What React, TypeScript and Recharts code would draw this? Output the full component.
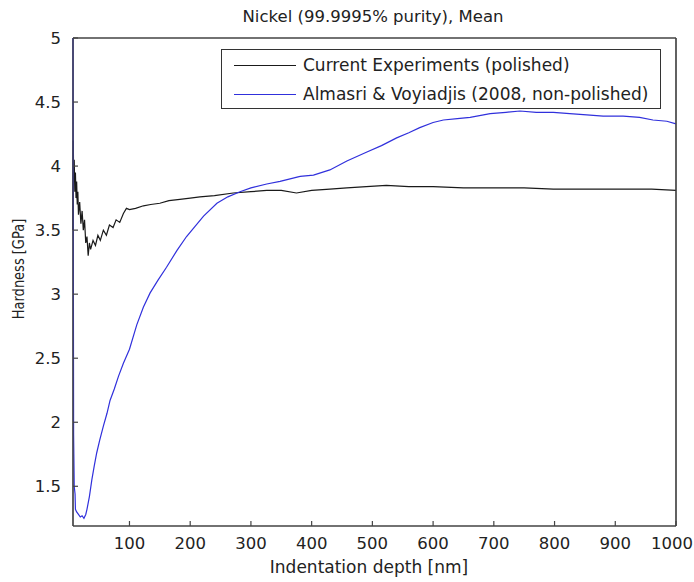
import { LineChart, Line, XAxis, YAxis, Legend, CartesianGrid } from "recharts";

// Current Experiments (polished) - black
const currentDepth = [
  7, 7.5, 8, 9, 10, 11, 12, 13, 14, 15, 16, 18, 20, 22, 24, 26, 28, 30, 32, 34, 36,
  40, 44, 48, 52, 57, 62, 67, 73, 78, 84, 90, 95, 100, 110, 123, 135, 150, 165, 183,
  200, 216, 240, 271, 300, 326, 350, 375, 400, 430, 458, 490, 523, 560, 600, 650,
  700, 750, 798, 850, 913, 960, 1000,
];
const currentHardness = [
  3.5, 4.2, 3.9, 4.05, 3.8, 3.95, 3.75, 3.88, 3.7, 3.8, 3.62, 3.72, 3.55, 3.65, 3.5,
  3.58, 3.4, 3.45, 3.3, 3.4, 3.35, 3.42, 3.38, 3.46, 3.42, 3.5, 3.46, 3.54, 3.52,
  3.58, 3.56, 3.63, 3.67, 3.66, 3.67, 3.69, 3.7, 3.71, 3.73, 3.74, 3.75, 3.76, 3.77,
  3.79, 3.8, 3.81, 3.81, 3.79, 3.81, 3.82, 3.83, 3.84, 3.85, 3.84, 3.84, 3.83, 3.83,
  3.83, 3.82, 3.82, 3.82, 3.82, 3.81,
];

// Almasri & Voyiadjis (2008, non-polished) - blue
const almasriDepth = [
  7, 8, 9, 10.4, 11, 13, 16, 19, 22, 25, 28, 30, 34, 38, 42, 46, 51, 57, 63, 68, 75,
  82, 90, 100, 112, 123, 134, 147, 161, 178, 194, 208, 222, 244, 262, 282, 300, 326,
  348, 381, 403, 430, 458, 491, 515, 540, 560, 578, 600, 617, 640, 661, 694, 720, 743,
  770, 798, 825, 853, 880, 913, 940, 962, 985, 1000,
];
const almasriHardness = [
  5.0, 1.9, 1.5, 1.44, 1.32, 1.3, 1.28, 1.26, 1.27, 1.25, 1.28, 1.32, 1.42, 1.55, 1.66,
  1.76, 1.86, 1.97, 2.07, 2.17, 2.26, 2.36, 2.46, 2.57, 2.76, 2.9, 3.01, 3.11, 3.21,
  3.34, 3.45, 3.53, 3.61, 3.71, 3.76, 3.8, 3.83, 3.86, 3.88, 3.92, 3.93, 3.97, 4.04,
  4.11, 4.16, 4.22, 4.26, 4.3, 4.34, 4.36, 4.37, 4.38, 4.41, 4.42, 4.43, 4.42, 4.42,
  4.41, 4.4, 4.39, 4.39, 4.38, 4.36, 4.35, 4.33,
];

const seriesNames = ["Current Experiments (polished)", "Almasri & Voyiadjis (2008, non-polished)"];
const xDomain = [7, 1000];
const yDomain = [1.19, 5];
const xTicks = [100, 200, 300, 400, 500, 600, 700, 800, 900, 1000];
const yTicks = [1.5, 2, 2.5, 3, 3.5, 4, 4.5, 5];

const currentData = currentDepth.map((d, i) => ({ depth: d, hardness: currentHardness[i] }));
const almasriData = almasriDepth.map((d, i) => ({ depth: d, hardness: almasriHardness[i] }));

const FONT = "'DejaVu Sans', sans-serif";
const FS = 16.5;
const TEXT = "#222";
const AXIS = "#444";
const BLACK = "#1a1a1a";
const BLUE = "#3030dc";

const axisLine = { stroke: AXIS, strokeWidth: 1.2 };
const tickLine = { stroke: AXIS, strokeWidth: 1.2 };

// x label under the inward tick; last one (1000) nudged to stay inside the picture
function XTick({ x, y, payload }: any) {
  const shift = payload.value === 1000 ? -4 : 0;
  return (
    <text x={x + shift} y={y + 14} dy="0.71em" textAnchor="middle" fontFamily={FONT} fontSize={FS} fill={TEXT}>
      {payload.value}
    </text>
  );
}

function YTick({ x, y, payload }: any) {
  return (
    <text x={x - 15} y={y} dy="0.36em" textAnchor="end" fontFamily={FONT} fontSize={FS} fill={TEXT}>
      {payload.value}
    </text>
  );
}

function LegendBox({ payload }: any) {
  const items = seriesNames
    .map((n) => (payload || []).find((p: any) => p.value === n))
    .filter(Boolean);
  return (
    <div
      style={{
        border: "1.2px solid #333",
        background: "#fff",
        height: 58,
        fontFamily: FONT,
        fontSize: 17,
        color: TEXT,
      }}
    >
      {items.map((p: any, i: number) => (
        <div key={i} style={{ display: "flex", alignItems: "center", height: 30, marginTop: i === 0 ? 0 : -1 }}>
          <div style={{ width: 62, height: 0, borderTop: `1.5px solid ${p.color}`, marginLeft: 12, marginRight: 7 }} />
          <span style={{ whiteSpace: "nowrap" }}>{p.value}</span>
        </div>
      ))}
    </div>
  );
}

const textBase = { position: "absolute" as const, fontFamily: FONT, color: TEXT, whiteSpace: "nowrap" as const, textAlign: "center" as const };

export default function App() {
  return (
    <div style={{ position: "absolute", left: 0, top: 0, width: 694, height: 582, background: "#fff" }}>
      <div style={{ ...textBase, top: 7, left: 0, width: 746, fontSize: FS }}>Nickel (99.9995% purity), Mean</div>
      <div style={{ ...textBase, top: 557, left: 0, width: 738, fontSize: 17, lineHeight: "20px" }}>
        Indentation depth [nm]
      </div>
      <div
        style={{
          ...textBase,
          left: 19 - 70,
          top: 269 - 8,
          width: 140,
          height: 16,
          lineHeight: "16px",
          fontSize: 13,
          transform: "scaleX(1.2) rotate(-90deg)",
          transformOrigin: "center",
        }}
      >
        Hardness [GPa]
      </div>

      <LineChart width={694} height={582} margin={{ top: 37, right: 17, bottom: 26, left: 0 }}>
        {/* plot frame: grid lines only at the plot edges */}
        <CartesianGrid
          xAxisId="bottom"
          yAxisId="left"
          stroke={AXIS}
          strokeWidth={1.2}
          horizontalCoordinatesGenerator={({ offset }: any) => [offset.top, offset.top + offset.height]}
          verticalCoordinatesGenerator={({ offset }: any) => [offset.left, offset.left + offset.width]}
        />
        <XAxis
          xAxisId="bottom"
          dataKey="depth"
          type="number"
          domain={xDomain}
          ticks={xTicks}
          interval={0}
          height={30}
          tickSize={-5}
          axisLine={axisLine}
          tickLine={tickLine}
          tick={<XTick />}
        />
        <XAxis
          xAxisId="top"
          orientation="top"
          dataKey="depth"
          type="number"
          domain={xDomain}
          ticks={xTicks}
          interval={0}
          height={1}
          tickSize={-5}
          axisLine={axisLine}
          tickLine={tickLine}
          tickFormatter={() => ""}
        />
        <YAxis
          yAxisId="left"
          type="number"
          domain={yDomain}
          ticks={yTicks}
          interval={0}
          width={73}
          tickSize={-5}
          axisLine={axisLine}
          tickLine={tickLine}
          tick={<YTick />}
        />
        <YAxis
          yAxisId="right"
          orientation="right"
          type="number"
          domain={yDomain}
          ticks={yTicks}
          interval={0}
          width={1}
          tickSize={-5}
          axisLine={axisLine}
          tickLine={tickLine}
          tickFormatter={() => ""}
        />
        <Legend
          layout="horizontal"
          verticalAlign="middle"
          align="center"
          content={<LegendBox />}
          wrapperStyle={{ position: "absolute", left: 221, top: 49, width: 440 }}
        />
        <Line
          xAxisId="bottom"
          yAxisId="left"
          data={currentData}
          dataKey="hardness"
          name={seriesNames[0]}
          stroke={BLACK}
          strokeWidth={1.2}
          dot={false}
          isAnimationActive={false}
        />
        <Line
          xAxisId="bottom"
          yAxisId="left"
          data={almasriData}
          dataKey="hardness"
          name={seriesNames[1]}
          stroke={BLUE}
          strokeWidth={1.2}
          dot={false}
          isAnimationActive={false}
        />
      </LineChart>
    </div>
  );
}
